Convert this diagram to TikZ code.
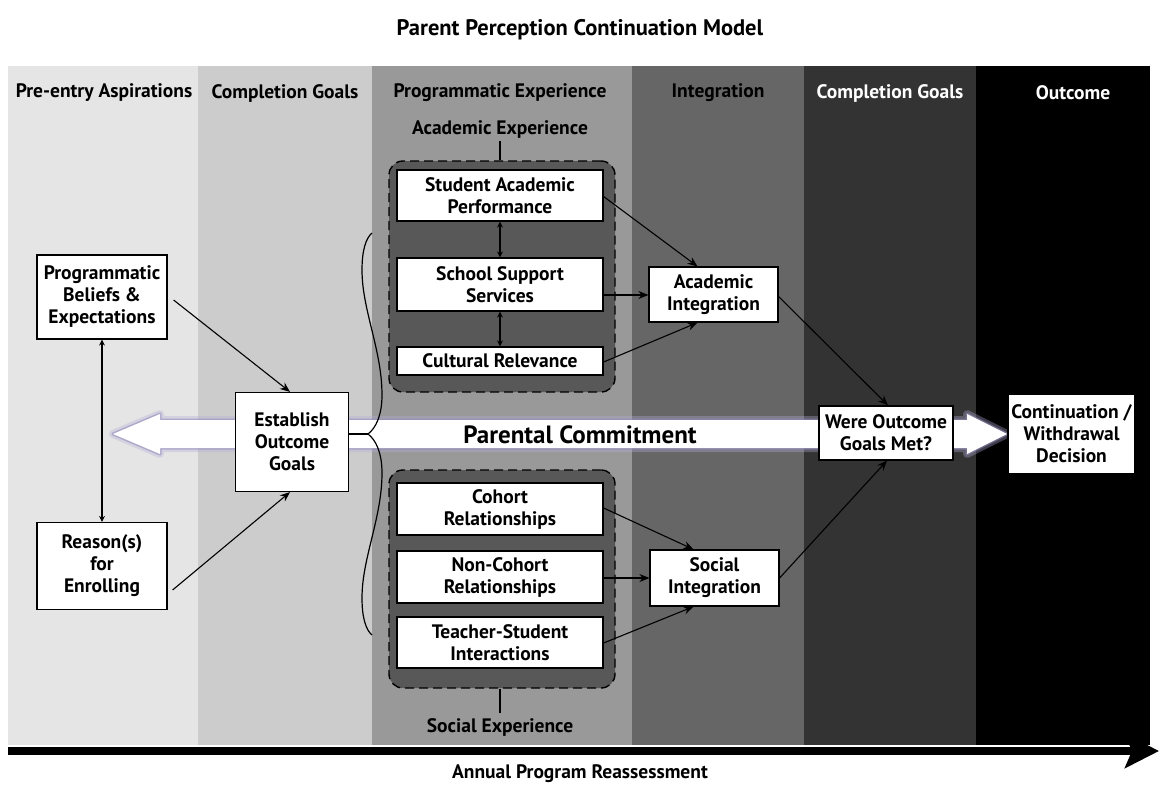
\documentclass[tikz,border=0pt]{standalone}
\usepackage{fontspec}
\setmainfont{PT Sans}
\usetikzlibrary{arrows.meta,calc}
\definecolor{bandA}{HTML}{E5E5E5}
\definecolor{bandB}{HTML}{CCCCCC}
\definecolor{bandC}{HTML}{999999}
\definecolor{bandD}{HTML}{666666}
\definecolor{bandE}{HTML}{333333}
\definecolor{bandF}{HTML}{000000}
\definecolor{grpfill}{HTML}{585858}
\definecolor{glowA}{HTML}{B4AED6}
\definecolor{glowB}{HTML}{8E88B8}
\begin{document}
\begin{tikzpicture}[x=1pt,y=-1pt,
  font=\bfseries\fontsize{19.5}{22}\selectfont,
  box/.style={draw=black,line width=1.2pt,fill=white,align=center,inner sep=0pt},
  grp/.style={draw=black,line width=1.4pt,dash pattern=on 9pt off 5pt,fill=grpfill,rounded corners=14pt,inner sep=0pt},
  hdr/.style={inner sep=0pt,font=\bfseries\fontsize{19.5}{22}\selectfont},
  arr/.style={-{Stealth[length=10pt,width=8pt]},line width=1.1pt},
  darr/.style={{Stealth[length=6pt,width=6pt]}-{Stealth[length=6pt,width=6pt]},line width=1.1pt},
  brc/.style={line width=1.2pt}
]
\useasboundingbox (0,0) rectangle (1160,787);
\fill[white] (0,0) rectangle (1160,787);
% bands
\fill[bandA] (8,66) rectangle (198,745);
\fill[bandB] (198,66) rectangle (372,745);
\fill[bandC] (372,66) rectangle (632,745);
\fill[bandD] (632,66) rectangle (804,745);
\fill[bandE] (804,66) rectangle (976,745);
\fill[bandF] (976,66) rectangle (1150,745);

% title and headers
\node[inner sep=0pt,font=\bfseries\fontsize{22.5}{26}\selectfont] (title) at (580,30) {Parent Perception Continuation Model};
\node[hdr] (h1) at (104,93) {Pre-entry Aspirations};
\node[hdr] (h2) at (285,93) {Completion Goals};
\node[hdr] (h3) at (500,93) {Programmatic Experience};
\node[hdr] (h4) at (718,93) {Integration};
\node[hdr,text=white] (h5) at (890,93) {Completion Goals};
\node[hdr,text=white] (h6) at (1073,93) {Outcome};

% big commitment arrow
\path[fill=white,
  preaction={draw=glowA,line width=8pt,opacity=.35,line join=round},
  preaction={draw=glowB,line width=3pt,opacity=.55,line join=round}]
  (113,434) -- (160,414) -- (160,420) -- (967,420) -- (967,414) -- (1007,434)
  -- (967,454) -- (967,448) -- (160,448) -- (160,454) -- cycle;
\node[inner sep=0pt,font=\bfseries\fontsize{25}{28}\selectfont] (pc) at (580,435) {Parental Commitment};

% groups
\node[grp,minimum width=226pt,minimum height=231pt] (acad) at (502,276.5) {};
\node[grp,minimum width=226pt,minimum height=218pt] (soc) at (502,579) {};
\node[hdr] (acadlbl) at (500,130) {Academic Experience};
\node[hdr] (soclbl) at (500,727) {Social Experience};
\draw[line width=1.4pt] (acadlbl.south |- 0,141) -- (acadlbl.south |- acad.north);
\draw[line width=1.4pt] (soclbl.north |- soc.south) -- (soclbl.north |- 0,713);

% left nodes
\node[box,minimum width=130pt,minimum height=84pt] (bel) at (102,297) {Programmatic\\Beliefs \&\\Expectations};
\node[box,minimum width=130pt,minimum height=87pt] (rea) at (102,566) {Reason(s)\\for\\Enrolling};
\node[box,minimum width=113pt,minimum height=99pt] (est) at (292,442) {Establish\\Outcome\\Goals};

% experience boxes
\node[box,minimum width=206pt,minimum height=51pt] (sap) at (500,195.5) {Student Academic\\Performance};
\node[box,minimum width=206pt,minimum height=53pt] (sss) at (500,284.5) {School Support\\Services};
\node[box,minimum width=206pt,minimum height=28pt] (cr) at (500,361) {Cultural Relevance};
\node[box,minimum width=206pt,minimum height=52pt] (coh) at (500,509) {Cohort\\Relationships};
\node[box,minimum width=206pt,minimum height=52pt] (nc) at (500,577) {Non-Cohort\\Relationships};
\node[box,minimum width=206pt,minimum height=51pt] (ts) at (500,642.5) {Teacher-Student\\Interactions};

% integration and outcome
\node[box,minimum width=129pt,minimum height=55pt] (ai) at (713.5,294.5) {Academic\\Integration};
\node[box,minimum width=129pt,minimum height=56pt] (si) at (714.5,578) {Social\\Integration};
\node[box,minimum width=134pt,minimum height=54pt] (were) at (886,433) {Were Outcome\\Goals Met?};
\node[box,minimum width=127pt,minimum height=80pt] (cont) at (1071.5,434) {Continuation /\\Withdrawal\\Decision};

% brace
\coordinate (btip) at (368,434);
\draw[brc] (est.east |- btip) -- (btip);
\draw[brc] (btip) .. controls (376,428) and (382,415) .. (382,395)
  .. controls (382,350) and (362,310) .. (362,270)
  .. controls (362,250) and (366,238) .. (372,233);
\draw[brc] (btip) .. controls (376,440) and (382,453) .. (382,473)
  .. controls (382,518) and (362,558) .. (362,598)
  .. controls (362,618) and (366,630) .. (372,635);

% connectors
\draw[darr] (bel.south) -- (rea.north);
\draw[arr] ($(bel.east)+(6,3)$) -- ($(est.north)+(-2,0)$);
\draw[arr] ($(rea.east)+(5,24)$) -- ($(est.south)+(-2,0)$);
\draw[darr] (sap.south) -- (sss.north);
\draw[darr] (sss.south) -- (cr.north);
\draw[arr] ($(sap.east)+(0,1)$) -- ($(ai.north)+(-16,0)$);
\draw[arr] (sss.east |- 0,295) -- (ai.west |- 0,295);
\draw[arr] ($(cr.east)+(0,1)$) -- ($(ai.south)+(-16,0)$);
\draw[arr] ($(ai.east)+(0,2)$) -- ($(were.north)+(2,0)$);
\draw[arr] ($(coh.east)+(0,-1)$) -- ($(si.north)+(-21,0)$);
\draw[arr] (nc.east |- si.west) -- (si.west);
\draw[arr] ($(ts.east)+(0,0.5)$) -- ($(si.south)+(-21,0)$);
\draw[arr] (si.east) -- ($(were.south)+(1,0)$);

% bottom timeline arrow
\coordinate (barL) at (8,751);
\coordinate (barR) at (1159,751);
\draw[line width=8pt,-{Stealth[length=34pt,width=34pt,inset=7pt]}] (barL) -- (barR);
\node[hdr] (apr) at (580,774) {Annual Program Reassessment};
\end{tikzpicture}
\end{document}
